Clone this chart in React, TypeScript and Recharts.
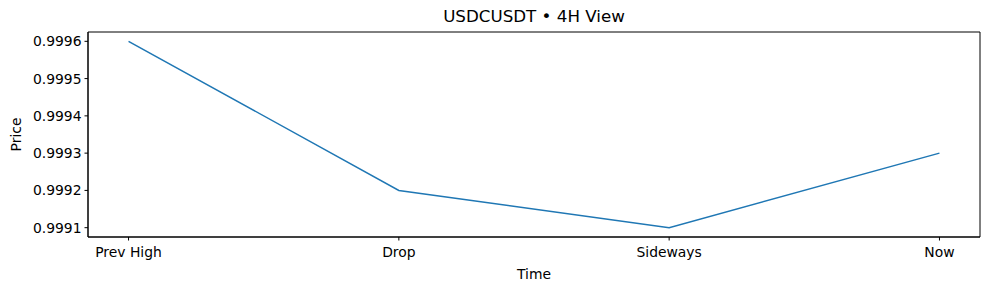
import { Line, LineChart, ReferenceArea, XAxis, YAxis } from 'recharts';

const categories = ['Prev High', 'Drop', 'Sideways', 'Now'];
const prices = [0.9996, 0.9992, 0.9991, 0.9993];
const priceTicks = [0.9991, 0.9992, 0.9993, 0.9994, 0.9995, 0.9996];

const xDomain: [number, number] = [-0.15, 3.15];
const yDomain: [number, number] = [0.999075, 0.999625];

const data = categories.map((label, i) => ({ idx: i, label, price: prices[i] }));

const font = 'DejaVu Sans, sans-serif';
const tickStyle = { fill: '#000', fontSize: 13.9, fontFamily: font };

export default function App() {
  return (
    <div style={{ position: 'absolute', left: 0, top: 0, width: 989, height: 290, background: '#fff' }}>
      <LineChart width={989} height={290} data={data} margin={{ top: 32, right: 9, left: 0, bottom: 0 }}>
        <text x={534} y={22} textAnchor="middle" fontSize={16.7} fontFamily={font} fill="#000">
          USDCUSDT • 4H View
        </text>
        <XAxis
          dataKey="idx"
          type="number"
          domain={xDomain}
          ticks={[0, 1, 2, 3]}
          tickFormatter={(v: number) => categories[v]}
          height={53}
          tickSize={3.5}
          tickMargin={6.5}
          stroke="#000"
          tick={tickStyle}
          label={{ value: 'Time', position: 'insideBottom', offset: 11, fill: '#000', fontSize: 13.9, fontFamily: font }}
        />
        <YAxis
          type="number"
          domain={yDomain}
          ticks={priceTicks}
          tickFormatter={(v: number) => v.toFixed(4)}
          width={88}
          tickSize={3.5}
          tickMargin={3}
          stroke="#000"
          tick={tickStyle}
          label={{ value: 'Price', angle: -90, position: 'insideLeft', offset: 16, fill: '#000', fontSize: 13.9, fontFamily: font, style: { textAnchor: 'middle' } }}
        />
        <ReferenceArea
          x1={xDomain[0]}
          x2={xDomain[1]}
          y1={yDomain[0]}
          y2={yDomain[1]}
          fill="none"
          fillOpacity={0}
          stroke="#000"
          strokeWidth={1}
          strokeOpacity={1}
        />
        <Line
          type="linear"
          dataKey="price"
          stroke="#1f77b4"
          strokeWidth={1.5}
          dot={false}
          isAnimationActive={false}
        />
      </LineChart>
    </div>
  );
}
